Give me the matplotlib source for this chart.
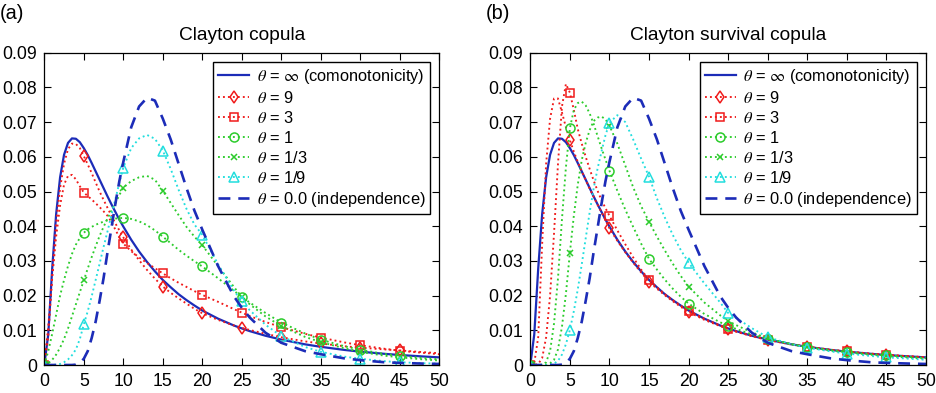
import matplotlib
matplotlib.use("Agg")
import matplotlib.pyplot as plt

# ---------------- data ----------------
x = [0, 0.5, 1, 1.5, 2, 2.5, 3, 3.5, 4, 4.5, 5, 5.5, 6, 6.5, 7, 7.5, 8, 8.5, 9, 9.5,
     10, 11, 12, 13, 14, 15, 16, 17, 18, 19, 20, 22, 24, 25, 26, 28, 30, 33, 35, 38,
     40, 43, 45, 48, 50]

como = [0, .0088, .0278, .0435, .0541, .0606, .0640, .0653, .0652, .0642, .0625, .0605,
        .0582, .0558, .0534, .0510, .0486, .0463, .0441, .0419, .0399, .0361, .0327,
        .0297, .0270, .0245, .0224, .0204, .0187, .01715, .0157, .01335, .01138, .01054,
        .00977, .00843, .00732, .00596, .00524, .00434, .00384, .00323, .00288, .00245, .0022]

indep = [0, 0, 0, 0, 0, 0, 0, 0, .0001, .0006, .0018, .0040, .0078, .0125, .0185, .0250,
         .0325, .0395, .0465, .0530, .0585, .0685, .0745, .0770, .0762, .0710, .0650,
         .0580, .0510, .0445, .0390, .0285, .0198, .0165, .0137, .0093, .0064, .0040,
         .0031, .0019, .0014, .0008, .0006, .0004, .0003]

# (a) Clayton copula
a_t9 = [0, .008, .026, .041, .051, .058, .0622, .0638, .0637, .0625, .0602, .0578, .0553,
        .0526, .0500, .0476, .0453, .0430, .0408, .0388, .0368, .0333, .0302, .0274,
        .0249, .0226, .0208, .0192, .0177, .0162, .0149, .0130, .0114, .0107, .0101,
        .0090, .0080, .0068, .0062, .0054, .0050, .0045, .0042, .0037, .0034]
a_t3 = [0, .011, .025, .037, .046, .052, .0545, .0548, .0535, .0515, .0497, .0487, .0477,
        .0466, .0455, .0443, .0430, .0412, .0390, .0368, .0350, .0328, .0310, .0294,
        .0279, .0264, .0250, .0237, .0225, .0213, .0202, .0182, .0161, .0151, .0141,
        .0124, .0109, .0090, .0079, .0065, .0057, .0047, .0041, .0035, .0031]
a_t1 = [0, .004, .009, .0145, .020, .0245, .0285, .032, .0347, .0366, .0381, .0391, .0398,
        .0404, .0409, .0413, .0417, .0420, .0422, .0423, .0424, .0421, .0414, .0403,
        .0388, .0370, .0351, .0332, .0315, .0299, .0284, .0250, .0214, .0196, .0180,
        .0150, .0122, .0091, .0073, .0054, .0044, .0032, .0026, .0020, .0016]
a_t13 = [0, .0005, .0015, .003, .005, .0075, .0105, .0140, .0175, .0210, .0244, .0278,
         .0311, .0342, .0372, .0398, .0422, .0445, .0466, .0490, .0511, .0530, .0541,
         .0545, .0534, .0502, .0467, .0432, .0398, .0370, .0345, .0285, .0225, .0196,
         .0175, .0140, .0112, .0081, .0066, .0048, .0038, .0027, .0022, .0016, .0013]
a_t19 = [0, 0, 0, .0001, .0003, .0008, .0016, .0028, .0045, .0075, .0117, .0155, .0198,
         .0245, .0292, .0340, .0385, .0432, .0478, .0525, .0569, .0625, .0653, .0663,
         .0652, .0618, .0565, .0505, .0450, .0405, .0375, .0290, .0215, .0183, .0158,
         .0116, .0083, .0052, .0038, .0024, .0018, .0011, .0008, .0005, .0004]

# (b) Clayton survival copula
b_t9 = [0, .0005, .008, .035, .058, .071, .0768, .0768, .0728, .0685, .0648, .0615, .0585,
        .0558, .0533, .0508, .0485, .0462, .0440, .0418, .0394, .0358, .0325, .0295,
        .0267, .0240, .0220, .0201, .0184, .0168, .0153, .0130, .0112, .0103, .0096,
        .0083, .0072, .0059, .0052, .0043, .0039, .0032, .0029, .0025, .0022]
b_t3 = [0, 0, .0003, .002, .008, .020, .038, .058, .0745, .0810, .0785, .0735, .0680,
        .0638, .0600, .0565, .0532, .0502, .0475, .0452, .0430, .0388, .0348, .0310,
        .0275, .0245, .0224, .0204, .0187, .0171, .0156, .0133, .0114, .0105, .0097,
        .0084, .0073, .0060, .0053, .0044, .0039, .0033, .0029, .0025, .0022]
b_t1 = [0, 0, 0, .0001, .0008, .004, .012, .025, .042, .057, .0682, .0735, .0755, .0759,
        .0748, .0725, .0695, .0660, .0625, .0592, .0560, .0502, .0448, .0398, .0350,
        .0306, .0275, .0246, .0220, .0197, .0177, .0147, .0123, .0113, .0104, .0088,
        .0075, .0060, .0052, .0043, .0038, .0031, .0028, .0023, .0020]
b_t13 = [0, 0, 0, 0, .0001, .0005, .0015, .0045, .0110, .0205, .0323, .0430, .0520, .0590,
         .0640, .0677, .0703, .0713, .0716, .0708, .0690, .0638, .0575, .0512, .0458,
         .0413, .0370, .0330, .0292, .0257, .0226, .0180, .0143, .0127, .0115, .0094,
         .0077, .0060, .0051, .0041, .0036, .0029, .0026, .0021, .0018]
b_t19 = [0, 0, 0, 0, 0, .0001, .0004, .0012, .0030, .0060, .0101, .0155, .0218, .0290,
         .0365, .0440, .0508, .0566, .0615, .0662, .0698, .0720, .0700, .0650, .0595,
         .0543, .0480, .0425, .0375, .0332, .0295, .0235, .0180, .0150, .0136, .0106,
         .0080, .0060, .0050, .0039, .0033, .0026, .0022, .0018, .0015]

labels = [r'$\theta$ = $\infty$ (comonotonicity)', r'$\theta$ = 9', r'$\theta$ = 3',
          r'$\theta$ = 1', r'$\theta$ = 1/3', r'$\theta$ = 1/9',
          r'$\theta$ = 0.0 (independence)']
titles = ['Clayton copula', 'Clayton survival copula']
panel_tags = ['(a)', '(b)']
xticks = [0, 5, 10, 15, 20, 25, 30, 35, 40, 45, 50]
yticks = [0, 0.01, 0.02, 0.03, 0.04, 0.05, 0.06, 0.07, 0.08, 0.09]
ytick_labels = ['0', '0.01', '0.02', '0.03', '0.04', '0.05', '0.06', '0.07', '0.08', '0.09']

# ---------------- style ----------------
plt.rcParams['font.family'] = ['Liberation Sans', 'DejaVu Sans']
plt.rcParams['mathtext.fontset'] = 'stix'

BLUE = '#1c2cb8'
RED = '#f01a1a'
GREEN = '#2ccc2c'
CYAN = '#22dede'

mark_idx = [i for i, v in enumerate(x) if v % 5 == 0 and v < 50]

fig = plt.figure(figsize=(9.36, 3.93), dpi=100)
axes = [fig.add_axes([44.3 / 936, 28 / 393, 395 / 936, 312.3 / 393]),
        fig.add_axes([530.3 / 936, 28 / 393, 395.7 / 936, 312.3 / 393])]

panels = [(a_t9, a_t3, a_t1, a_t13, a_t19), (b_t9, b_t3, b_t1, b_t13, b_t19)]

for k, ax in enumerate(axes):
    t9, t3, t1, t13, t19 = panels[k]
    ax.plot(x, como, color=BLUE, lw=1.6, ls='-', label=labels[0])
    common = dict(lw=1.35, ls=':', markevery=mark_idx, markersize=6.5, mfc='none', mew=1.1)
    ax.plot(x, t9, color=RED, marker='d', label=labels[1], **common)
    ax.plot(x, t3, color=RED, marker='s', label=labels[2], **dict(common, markersize=5.5))
    ax.plot(x, t1, color=GREEN, marker='o', label=labels[3], **common)
    ax.plot(x, t13, color=GREEN, marker='x', label=labels[4], **dict(common, markersize=5))
    ax.plot(x, t19, color=CYAN, marker='^', label=labels[5], **common)
    ax.plot(x, indep, color=BLUE, lw=1.9, ls=(0, (4.5, 3)), label=labels[6])

    ax.set_xlim(0, 50)
    ax.set_ylim(0, 0.09)
    ax.set_xticks(xticks)
    ax.set_yticks(yticks)
    ax.set_yticklabels(ytick_labels)
    ax.tick_params(direction='in', top=True, right=True, length=5, width=0.8,
                   labelsize=12.7, color='black')
    ax.tick_params(axis='x', pad=6)
    ax.tick_params(axis='y', pad=5)
    for s in ax.spines.values():
        s.set_linewidth(0.9)
    ax.set_title(titles[k], fontsize=13.8, pad=9)
    leg = ax.legend(loc='upper right', fontsize=11.8, frameon=True, fancybox=False,
                    edgecolor='black', framealpha=1, borderaxespad=0.55,
                    labelspacing=0.25, handlelength=1.9, handletextpad=0.45,
                    borderpad=0.3, numpoints=1)
    leg.get_frame().set_linewidth(1.0)

fig.text(0.0, 0.965, panel_tags[0], fontsize=14.3, va='center', ha='left')
fig.text(486 / 936, 0.965, panel_tags[1], fontsize=14.3, va='center', ha='left')

fig.savefig('out.png', dpi=100)
